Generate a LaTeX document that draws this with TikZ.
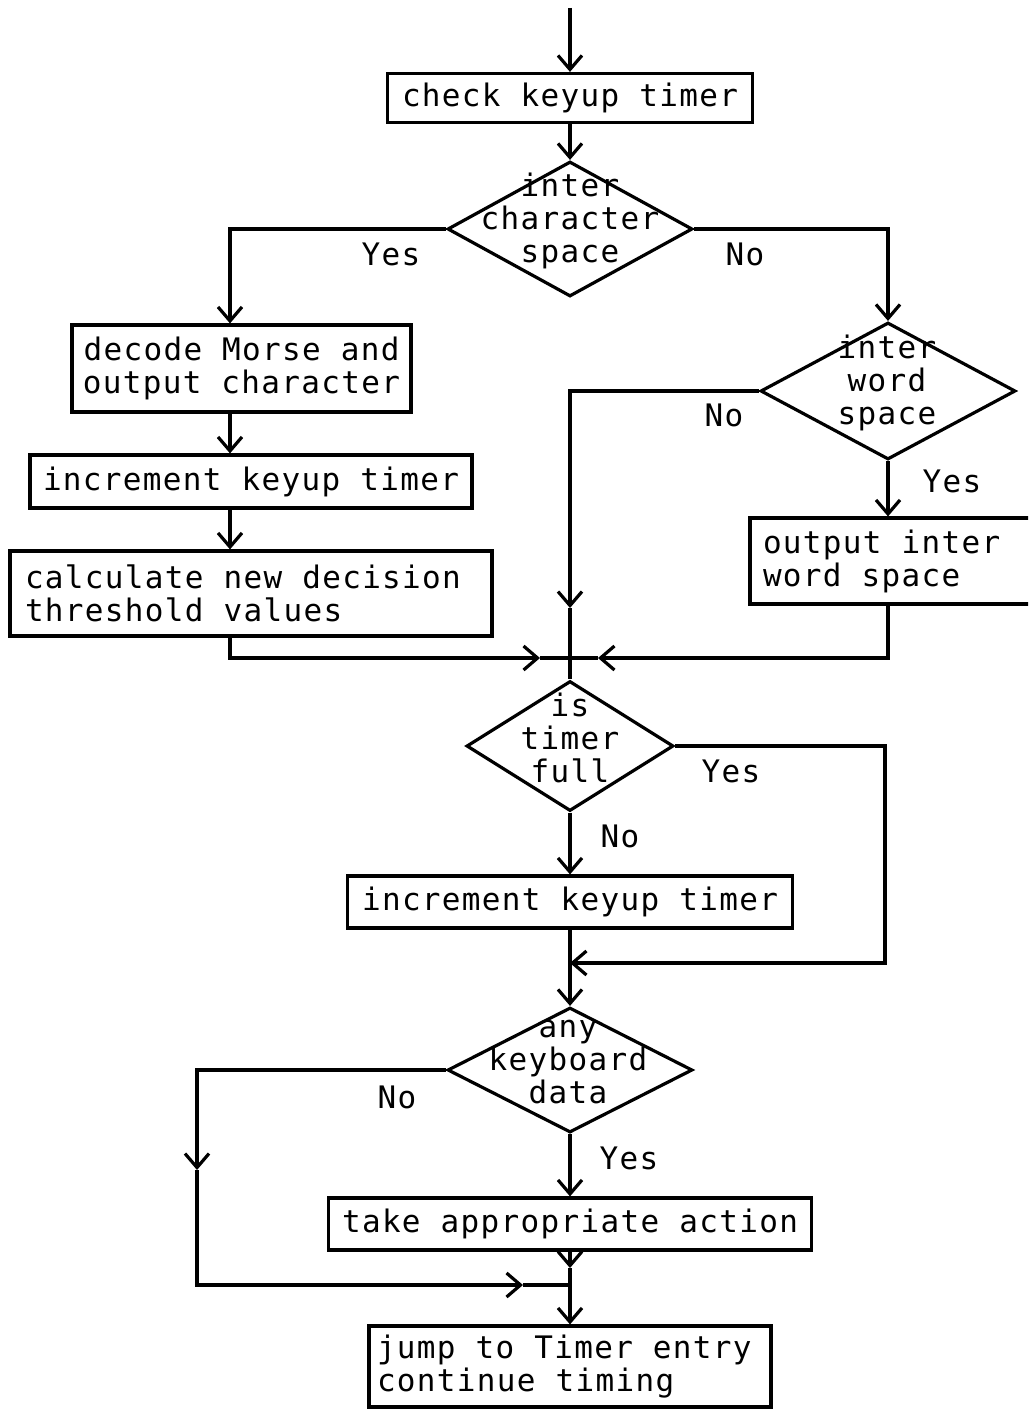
\documentclass[tikz,border=0pt]{standalone}
\usepackage{fontspec}
\newfontfamily\flowfont{DejaVu Sans Mono}[LetterSpace=4.3]
\usetikzlibrary{shapes.geometric,arrows.meta}
\begin{document}
\begin{tikzpicture}[x=1pt,y=-1pt,
  line width=3.2pt,
  every node/.style={font=\flowfont\fontsize{31}{33}\selectfont, text=black},
  box/.style 2 args={draw, rectangle, inner sep=0pt, minimum width=#1pt, minimum height=#2pt, align=center},
  lbox/.style n args={3}{draw, rectangle, inner ysep=0pt, inner xsep=#3pt, text width=#1pt, minimum height=#2pt, align=left,
    execute at begin node={\spaceskip=20pt plus 0pt minus 0pt\relax}},
  decision/.style 2 args={draw, diamond, inner sep=0pt, minimum width=#1pt, minimum height=#2pt},
  dtext/.style={inner sep=0pt, align=center},
  lab/.style={inner sep=0pt, anchor=base},
  arr/.style={-{Straight Barb[length=14pt,width=24pt]}},
]
% page frame
\useasboundingbox (0,0) rectangle (1028,1410);
\fill[white] (0,0) rectangle (1028,1410);
\clip (0,0) rectangle (1028,1410);

% process boxes and decisions
\node[box={365}{49}] (b1) at (570,98) {check keyup timer};
\node[decision={245}{135}] (d1) at (570,229) {};
\node[dtext] (t1) at (570,221) {inter\\character\\space};
\node[box={339}{87}] (b2) at (241.5,368.5) {decode Morse and\\output character};
\node[box={442}{53}] (b3) at (251,481.5) {increment keyup timer};
\node[lbox={452}{85}{15}] (b4) at (251,593.5) {calculate new decision\\threshold values};
\node[decision={255}{137}] (d2) at (888,391) {};
\node[dtext] (t2) at (887,383) {inter\\word\\space};
\node[lbox={274}{86}{13}] (b5) at (900,561) {output inter\\word space};
\node[decision={207}{130}] (d3) at (570,746) {};
\node[dtext] (t3) at (570,738) {is\\timer\\full};
\node[box={445}{52}] (b6) at (570,902) {increment keyup timer};
\node[decision={245}{125}] (d4) at (570,1070) {};
\node[dtext] (t4) at (568,1062) {any\\keyboard\\data};
\node[box={483}{52}] (b7) at (570,1224) {take appropriate action};
\node[lbox={386}{81}{8}] (b8) at (570,1366.5) {jump to Timer entry\\continue timing};

% routing points
\coordinate (start) at (570,8);
\coordinate (colL) at (230,0);
\coordinate (colR) at (888,0);
\coordinate (j1) at (570,658);
\coordinate (m1) at (570,608);
\coordinate (m2) at (540,658);
\coordinate (m3) at (598,658);
\coordinate (r3) at (885,963);
\coordinate (j2) at (570,963);
\coordinate (m4) at (197,1170);
\coordinate (m5) at (523,1285);
\coordinate (j3) at (570,1285);
\coordinate (m6) at (570,1268);

% connectors
\draw[arr] (start) -- (b1.north);
\draw[arr] (b1.south) -- (d1.north);
\draw[arr] (d1.west) -| (b2.north -| colL);
\draw[arr] (d1.east) -| (d2.north);
\draw[arr] (b2.south -| colL) -- (b3.north -| colL);
\draw[arr] (b3.south -| colL) -- (b4.north -| colL);
\draw[arr] (b4.south -| colL) |- (m2);
\draw (m2) -- (j1);
\draw[arr] (d2.west) -| (m1);
\draw (m1) -- (j1);
\draw[arr] (d2.south) -- (b5.north -| colR);
\draw[arr] (b5.south -| colR) |- (m3);
\draw (m3) -- (j1);
\draw (j1) -- (d3.north);
\draw[arr] (d3.south) -- (b6.north);
\draw[arr] (d3.east) -| (r3) -- (j2);
\draw[arr] (b6.south) -- (d4.north);
\draw[arr] (d4.west) -| (m4);
\draw[arr] (m4) |- (m5);
\draw (m5) -- (j3);
\draw[arr] (d4.south) -- (b7.north);
\draw[arr] (b7.south) -- (m6);
\draw[arr] (m6) -- (b8.north);

% branch labels
\node[lab] (y1) at (391,265) {Yes};
\node[lab] (n1) at (745,265) {No};
\node[lab] (n2) at (724,426) {No};
\node[lab] (y2) at (952,492) {Yes};
\node[lab] (y3) at (731,782) {Yes};
\node[lab] (n3) at (620,847) {No};
\node[lab] (n4) at (397,1108) {No};
\node[lab] (y4) at (629,1169) {Yes};
\end{tikzpicture}
\end{document}
